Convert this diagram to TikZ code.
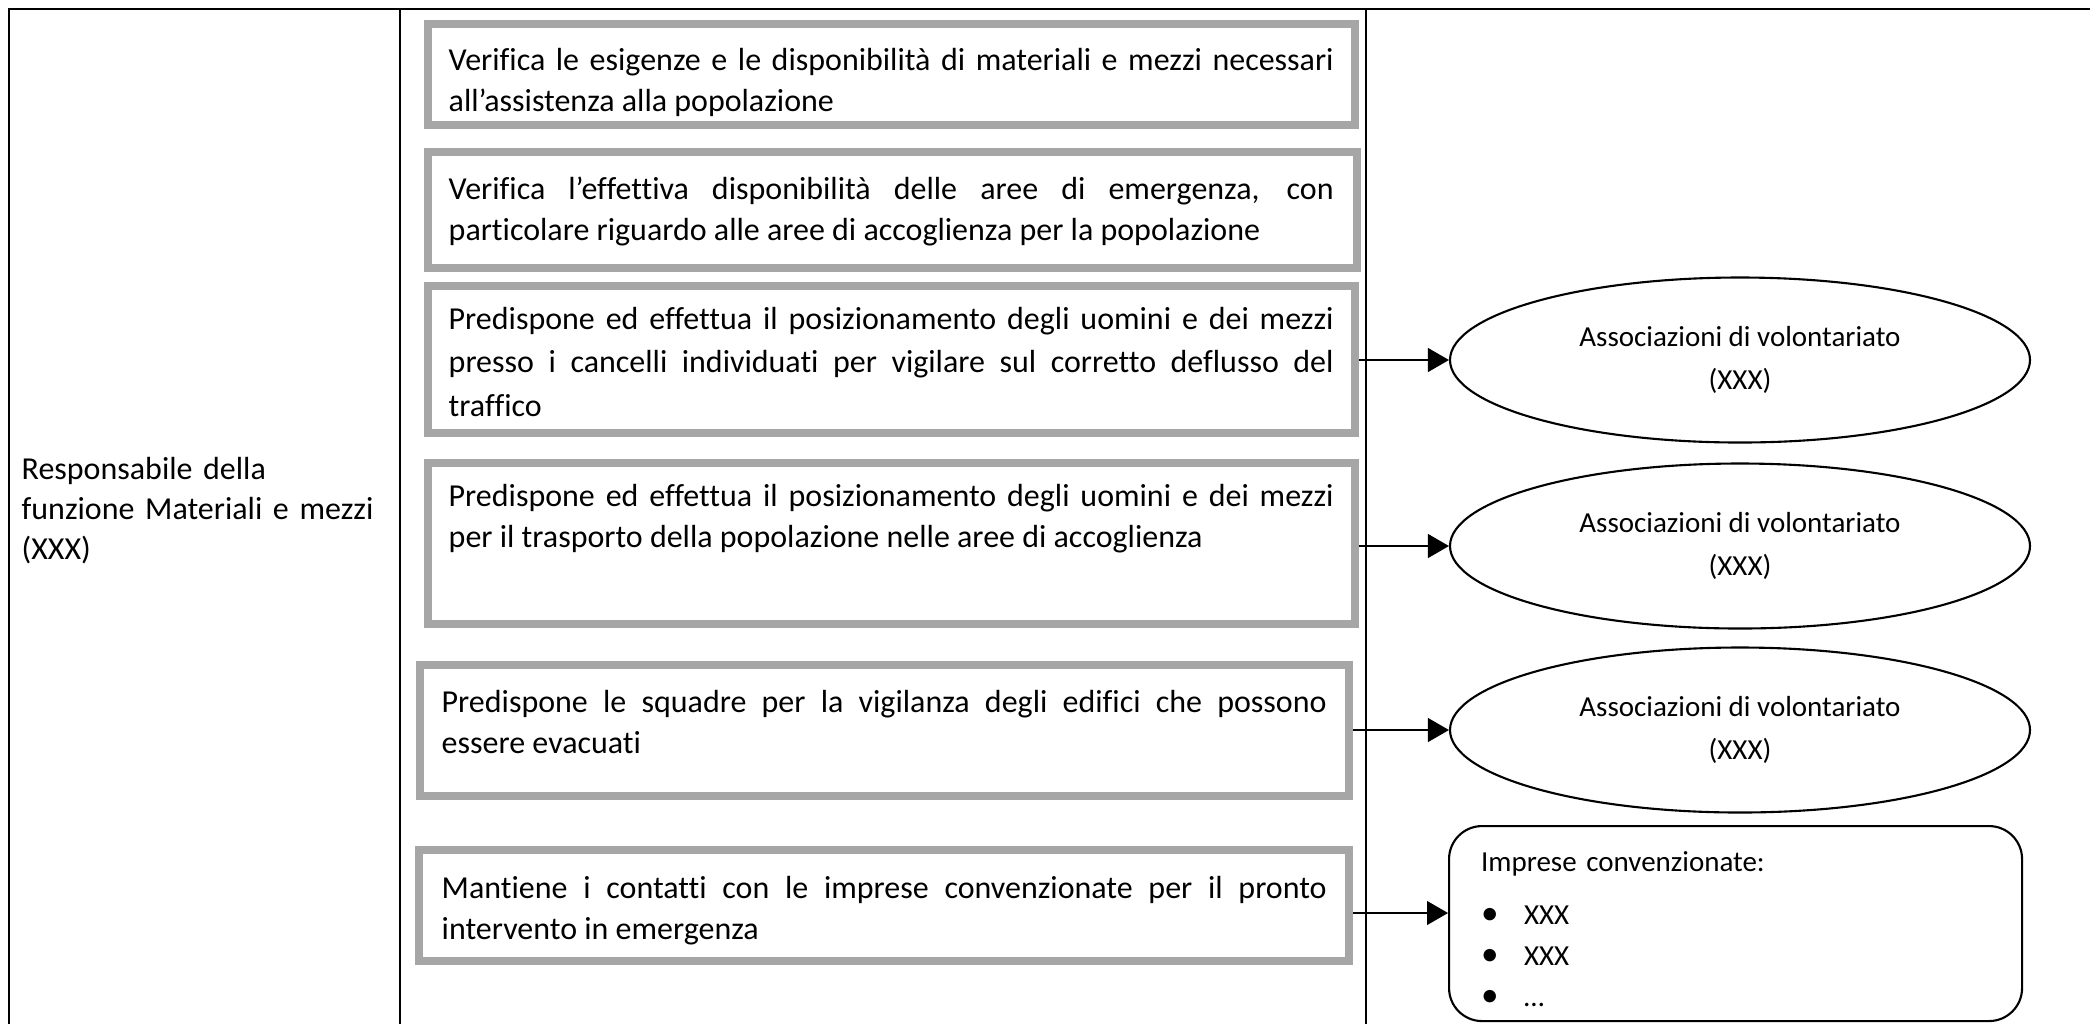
\documentclass[tikz,border=0pt]{standalone}
\usepackage{fontspec}
\setmainfont{Carlito}[Ligatures=CommonOff]
\usepackage{tikz}
\usetikzlibrary{arrows}
\usetikzlibrary{shapes.geometric}
\definecolor{boxgray}{RGB}{166,166,166}
\hyphenpenalty=10000
\exhyphenpenalty=10000
\tolerance=10000
\hbadness=10000
\newcommand{\blt}{\makebox[0.43cm][l]{\fontsize{10pt}{10pt}\selectfont •}}

\begin{document}
\begin{tikzpicture}[
    rule/.style={line width=0.6pt},
    taskbox/.style={draw=boxgray, line width=0.08cm, anchor=north west, minimum width=9.27cm, inner sep=0pt},
    tasktext/.style={anchor=base west, text width=8.85cm, align=justify, inner sep=0pt, font=\fontsize{9.1pt}{11.75pt}\selectfont},
    volbox/.style={draw, rule, ellipse, minimum width=5.8cm, minimum height=1.65cm, inner sep=0pt, align=center, font=\fontsize{8.25pt}{12.2pt}\selectfont},
    arr/.style={rule, -triangle 60}
  ]
          \useasboundingbox (0,0) rectangle (20.9,-10.24);
          % table frame
          \draw[rule] (0.09,-10.24) -- (0.09,-0.09) -- (20.9,-0.09);
          \draw[rule] (4.00,-0.09) -- (4.00,-10.24);
          \draw[rule] (13.66,-0.09) -- (13.66,-10.24);
          % responsabile
          \node[anchor=base west, text width=3.7cm, align=left, inner sep=0pt, font=\fontsize{9.1pt}{11.38pt}\selectfont] (resp) at (0.21,-4.79) {Responsabile della\\funzione Materiali e mezzi\\(XXX)};
          % tasks
          \node[taskbox, minimum height=1.01cm] (b1) at (4.24,-0.20) {};
          \node[tasktext] (t1) at ([shift={(0.24,-0.50)}]b1.north west) {Verifica le esigenze e le disponibilità di materiali e mezzi necessari\linebreak all’assistenza alla popolazione};
          \node[taskbox, minimum width=9.29cm, minimum height=1.16cm] (b2) at (4.24,-1.48) {};
          \node[tasktext] (t2) at ([shift={(0.24,-0.51)}]b2.north west) {Verifica l’effettiva disponibilità delle aree di emergenza, con\linebreak particolare riguardo alle aree di accoglienza per la popolazione};
          \node[taskbox, minimum height=1.47cm] (b3) at (4.24,-2.82) {};
          \node[tasktext, font=\fontsize{9.1pt}{12.4pt}\selectfont] (t3) at ([shift={(0.24,-0.47)}]b3.north west) {Predispone ed effettua il posizionamento degli uomini e dei mezzi\linebreak presso i cancelli individuati per vigilare sul corretto deflusso del\linebreak traffico};
          \node[taskbox, minimum height=1.61cm] (b4) at (4.24,-4.59) {};
          \node[tasktext] (t4) at ([shift={(0.24,-0.47)}]b4.north west) {Predispone ed effettua il posizionamento degli uomini e dei mezzi\linebreak per il trasporto della popolazione nelle aree di accoglienza};
          \node[taskbox, minimum width=9.29cm, minimum height=1.31cm] (b5) at (4.16,-6.61) {};
          \node[tasktext] (t5) at ([shift={(0.25,-0.51)}]b5.north west) {Predispone le squadre per la vigilanza degli edifici che possono\linebreak essere evacuati};
          \node[taskbox, minimum width=9.30cm, minimum height=1.11cm] (b6) at (4.15,-8.46) {};
          \node[tasktext] (t6) at ([shift={(0.26,-0.52)}]b6.north west) {Mantiene i contatti con le imprese convenzionate per il pronto\linebreak intervento in emergenza};
          % volontariato
          \node[volbox] (v1) at (17.40,-3.60) {Associazioni di volontariato\\(XXX)};
          \node[volbox] (v2) at (17.40,-5.46) {Associazioni di volontariato\\(XXX)};
          \node[volbox] (v3) at (17.40,-7.30) {Associazioni di volontariato\\(XXX)};
          % imprese
          \node[draw, rule, rounded corners=0.33cm, anchor=north west, minimum width=5.73cm, minimum height=1.95cm, text width=5.09cm, text height=0.3cm, text depth=1.35cm, inner xsep=0.32cm, inner ysep=0pt, align=left, font=\fontsize{8.25pt}{11.67pt}\selectfont] (imp) at (14.48,-8.25) {Imprese convenzionate:\\[0.12cm]\blt XXX\\\blt XXX\\\blt …};
          % lines between tasks and enti
          \draw[arr] (b3.east |- v1.west) -- (v1.west);
          \draw[arr] (b4.east |- v2.west) -- (v2.west);
          \draw[arr] (b5.east |- v3.west) -- (v3.west);
          \coordinate (a4) at (13.53,-9.13);
          \draw[arr] (b6.east |- a4) -- (imp.west |- a4);
        \end{tikzpicture}
\end{document}
